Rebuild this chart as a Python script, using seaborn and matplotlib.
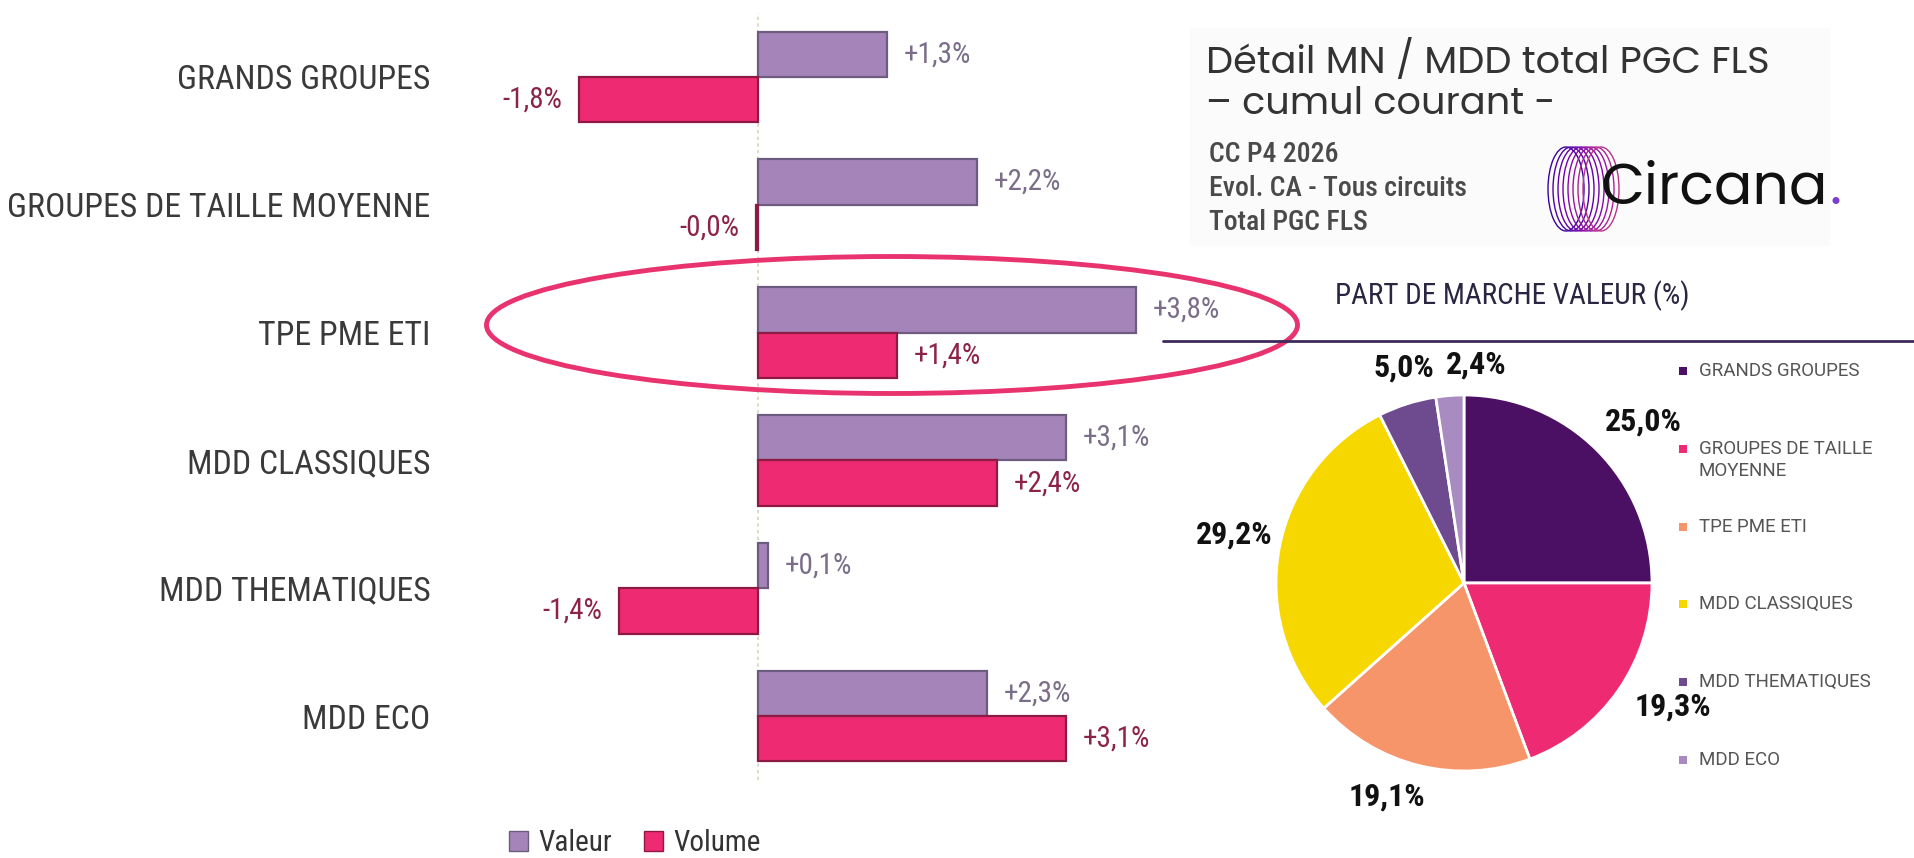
import numpy as np
import pandas as pd
import matplotlib
matplotlib.use("Agg")
import matplotlib.pyplot as plt
import seaborn as sns
from matplotlib import font_manager
from matplotlib.patches import Ellipse, Rectangle, Patch

# ---- data -------------------------------------------------------------
categories = ["GRANDS GROUPES", "GROUPES DE TAILLE MOYENNE", "TPE PME ETI",
              "MDD CLASSIQUES", "MDD THEMATIQUES", "MDD ECO"]
series = ["Valeur", "Volume"]
valeur = [1.3, 2.2, 3.8, 3.1, 0.1, 2.3]
volume = [-1.8, -0.02, 1.4, 2.4, -1.4, 3.1]

part_marche = [25.0, 19.3, 19.1, 29.2, 5.0, 2.4]
pie_legend_labels = ["GRANDS GROUPES", "GROUPES DE TAILLE\nMOYENNE", "TPE PME ETI",
                     "MDD CLASSIQUES", "MDD THEMATIQUES", "MDD ECO"]

title_lines = ["Détail MN / MDD total PGC FLS", "– cumul courant -"]
info_lines = ["CC P4 2026", "Evol. CA - Tous circuits", "Total PGC FLS"]
pie_title = "PART DE MARCHE VALEUR (%)"

# ---- style ------------------------------------------------------------
W, H = 1915, 858
C_VAL, EC_VAL, TXT_VAL = "#A585B9", "#6E5C80", "#7B6E88"
C_VOL, EC_VOL, TXT_VOL = "#EE2A72", "#8C1A42", "#8C2348"
PIE_COLORS = ["#4B0F63", "#EE2A72", "#F7956A", "#F7D700", "#6E4A8E", "#A88BC0"]
# per-wedge label placement: angular shift (deg) and radius (in pie radii)
label_shift = [-3, 4, -6, -1, -2, -7.5]
label_radius = [1.28, 1.29, 1.21, 1.25, 1.19, 1.165]

sns.set_theme(style="white")
names = {f.name for f in font_manager.fontManager.ttflist}

def pick(cands, default):
    for c in cands:
        if c in names:
            return c
    return default

cond = pick(["Roboto Condensed", "Barlow Semi Condensed", "Fira Sans Condensed"], "Roboto")
geo = pick(["Poppins", "Lato"], "DejaVu Sans")
geo_scale = 1.0 if geo == "Poppins" else 1.12
plt.rcParams["font.family"] = [cond, "DejaVu Sans"]

fig = plt.figure(figsize=(W / 100, H / 100), dpi=100)
fig.patch.set_facecolor("white")

def fmt(v):
    return f"{v:+.1f}%".replace(".", ",")

# ---- grouped horizontal bars -----------------------------------------
df = pd.DataFrame({
    "categorie": categories * 2,
    "evolution": valeur + volume,
    "serie": [series[0]] * len(categories) + [series[1]] * len(categories),
})
ax = fig.add_axes([440 / W, 78 / H, 720 / W, 767 / H])
sns.barplot(data=df, x="evolution", y="categorie", hue="serie", order=categories,
            hue_order=series, palette=[C_VAL, C_VOL], orient="h", width=0.71,
            saturation=1, legend=False, ax=ax)
for cont, ec, tc, vals in zip(ax.containers, [EC_VAL, EC_VOL], [TXT_VAL, TXT_VOL],
                              [valeur, volume]):
    for p in cont:
        p.set_edgecolor(ec)
        p.set_linewidth(1.6)
    ax.bar_label(cont, labels=[fmt(v) for v in vals], padding=12, color=tc,
                 fontsize=21)
ax.set_xlim(-3.2, 4.044)
ax.set_ylim(5.5, -0.5)
ax.axvline(0, color="#d9d2bd", lw=1.2, ls=(0, (2, 2)), zorder=0)
ax.set_xticks([])
ax.set_xlabel("")
ax.set_ylabel("")
ax.tick_params(axis="y", length=0, pad=7, labelsize=24.3, labelcolor="#3a3a3a")
sns.despine(ax=ax, left=True, bottom=True)

handles = [Patch(facecolor=C_VAL, edgecolor=EC_VAL), Patch(facecolor=C_VOL, edgecolor=EC_VOL)]
fig.legend(handles, series, loc="center", bbox_to_anchor=(635 / W, 1 - 843 / H), ncol=2,
           frameon=False, fontsize=21, handlelength=0.65, handleheight=0.7,
           handletextpad=0.35, columnspacing=1.1, labelcolor="#333333")

# ---- pie --------------------------------------------------------------
R = 188
cx, cy = 1464, 583
L = 1.45
S = 2 * L * R
pax = fig.add_axes([(cx - S / 2) / W, (H - cy - S / 2) / H, S / W, S / H])
wedges, _, autotexts = pax.pie(
    part_marche, colors=PIE_COLORS, startangle=90, counterclock=False,
    wedgeprops=dict(edgecolor="white", linewidth=2),
    autopct=lambda p: f"{p:.1f}%".replace(".", ","), pctdistance=1.25,
    textprops=dict(fontsize=23, fontweight="bold", color="#111111"))
for w, t, sh, rr in zip(wedges, autotexts, label_shift, label_radius):
    ang = np.deg2rad((w.theta1 + w.theta2) / 2 + sh)
    t.set_position((rr * np.cos(ang), rr * np.sin(ang)))
    t.set_ha("center")
    t.set_va("center")
pax.set_xlim(-L, L)
pax.set_ylim(-L, L)
pax.set_aspect("equal")
pax.axis("off")

# ---- overlay: headings, logo, pie legend, highlight -------------------
ov = fig.add_axes([0, 0, 1, 1], zorder=5)
ov.set_xlim(0, W)
ov.set_ylim(H, 0)
ov.axis("off")

ov.add_patch(Rectangle((1190, 28), 640, 218, facecolor="#fbfbfb", edgecolor="none", zorder=0))
ov.text(1206, 62, title_lines[0], fontsize=27.5 * geo_scale, family=geo, color="#333333", va="center")
ov.text(1206, 105, title_lines[1], fontsize=27.5 * geo_scale, family=geo, color="#333333", va="center")
for i, line in enumerate(info_lines):
    ov.text(1209, 154 + 34.5 * i, line, fontsize=20, fontweight="medium",
            color="#4a4a4a", va="center")

for k in range(8):
    ov.add_patch(Ellipse((1566 + 5 * k, 189), 36, 84, fill=False, lw=1.0,
                         ec=plt.cm.plasma(0.08 + 0.05 * k), zorder=2))
logo = ov.text(1601, 190, "Circana", fontsize=41 * geo_scale, family=geo, color="#111111",
               va="center", zorder=3)
fig.canvas.draw()
bb = logo.get_window_extent().transformed(ov.transData.inverted())
ov.text(max(bb.x0, bb.x1) + 1, 190, ".", fontsize=41 * geo_scale, family=geo,
        color="#7B3FD0", va="center", zorder=3)

ov.text(1512, 296, pie_title, fontsize=21, color="#2a2540", ha="center", va="center")
ov.plot([1163, 1915], [341, 341], color="#3d2a5a", lw=2)

for i, (lab, col) in enumerate(zip(pie_legend_labels, PIE_COLORS)):
    y = 371 + 77.8 * i
    ov.add_patch(Rectangle((1679, y - 4), 8, 8, facecolor=col, edgecolor="none"))
    ov.text(1699, y - 9, lab, fontsize=13.5, family="Roboto", color="#555555",
            va="top", linespacing=1.3)

ov.add_patch(Ellipse((892, 325), 811, 137, fill=False, ec="#E8336F", lw=3.5))

fig.savefig("out.png", dpi=100, facecolor="white")
